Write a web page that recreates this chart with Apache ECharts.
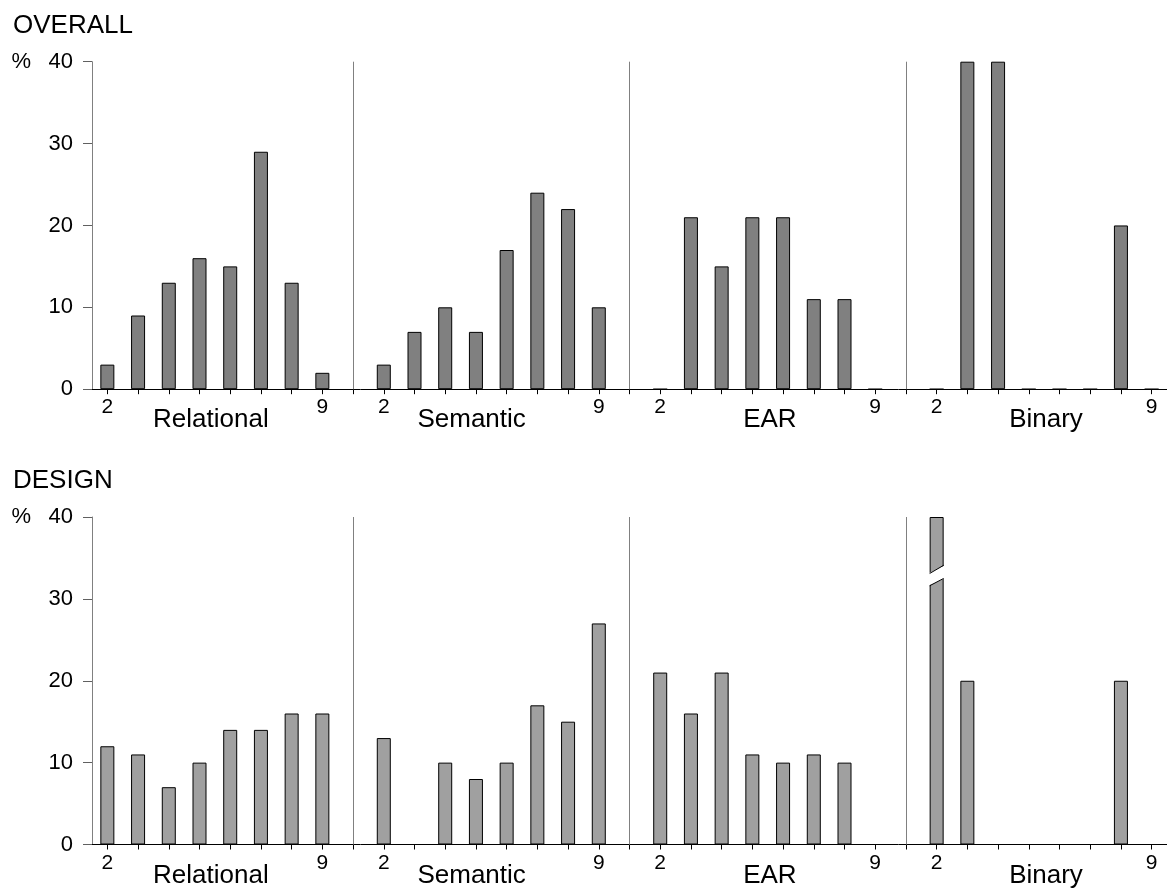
<!DOCTYPE html>
<html>
<head>
<meta charset="utf-8">
<script src="https://cdn.jsdelivr.net/npm/echarts@6/dist/echarts.min.js"></script>
<style>
html,body{margin:0;padding:0;background:#fff;}
#chart{width:1167px;height:894px;}
</style>
</head>
<body>
<div id="chart"></div>
<script>
// ---- data ----
const categories = ['2', '3', '4', '5', '6', '7', '8', '9'];
const groups = ['Relational', 'Semantic', 'EAR', 'Binary'];
const panelTitles = ['OVERALL', 'DESIGN'];
const yTicks = [0, 10, 20, 30, 40];

const overallRelational = [3, 9, 13, 16, 15, 29, 13, 2];
const overallSemantic   = [3, 7, 10, 7, 17, 24, 22, 10];
const overallEAR        = [0, 21, 15, 21, 21, 11, 11, 0];
const overallBinary     = [0, 40, 40, 0, 0, 0, 20, 0];

const designRelational  = [12, 11, 7, 10, 14, 14, 16, 16];
const designSemantic    = [13, 0, 10, 8, 10, 17, 15, 27];
const designEAR         = [21, 16, 21, 11, 10, 11, 10, 0];
const designBinary      = [40, 20, 0, 0, 0, 0, 20, 0];
// bars that run off the top of the axis (drawn with a break mark)
const designBroken      = [['Binary', '2']];

// ---- build ----
const FONT = '"Liberation Sans", Arial, Helvetica, sans-serif';
const yMax = 40;
const xIds = [];
const sepIds = [];
groups.forEach((g, gi) => {
  if (gi > 0) { xIds.push('sep' + gi); sepIds.push('sep' + gi); }
  categories.forEach(c => xIds.push(g + '|' + c));
});
function panelData(arrs) {
  const map = {};
  groups.forEach((g, gi) => categories.forEach((c, ci) => { map[g + '|' + c] = arrs[gi][ci]; }));
  return xIds.map(id => (id in map ? map[id] : '-'));
}
const panels = [
  panelData([overallRelational, overallSemantic, overallEAR, overallBinary]),
  panelData([designRelational, designSemantic, designEAR, designBinary])
];
const brokenIdx = [[], designBroken.map(([g, c]) => xIds.indexOf(g + '|' + c))];

// group name label anchors (layout: category-index space, per group)
const groupLabelPos = [4.37, 12.86, 22.57, 31.56];

const gridTops = [61.7, 517];
const gridH = 327.5;
const barW = 14;
const barColors = ['#808080', '#a0a0a0'];

const option = {
  animation: false,
  backgroundColor: '#fff',
  textStyle: { fontFamily: FONT },
  title: panelTitles.map((t, i) => ({
    text: t, left: 8, top: gridTops[i] - 54,
    textStyle: { fontFamily: FONT, fontSize: 26, fontWeight: 'normal', color: '#000' }
  })),
  grid: gridTops.map(t => ({ left: 92, right: 0, top: t, height: gridH, containLabel: false })),
  xAxis: [],
  yAxis: [],
  series: []
};

[0, 1].forEach(p => {
  option.xAxis.push({
    type: 'category', gridIndex: p, data: xIds, position: 'bottom',
    boundaryGap: true,
    axisLine: { show: true, lineStyle: { color: '#000', width: 1 } },
    axisTick: { show: true, alignWithLabel: true, interval: 0, length: 5, lineStyle: { color: '#000' } },
    axisLabel: {
      interval: 0, margin: 8, fontSize: 21, color: '#000', fontFamily: FONT,
      formatter: id => {
        const c = id.split('|')[1];
        return (c === categories[0] || c === categories[categories.length - 1]) ? c : '';
      }
    },
    splitLine: { show: false }
  });
  option.xAxis.push({
    type: 'value', gridIndex: p, position: 'bottom', min: 0.5, max: xIds.length + 0.5,
    axisLine: { show: false }, axisTick: { show: false }, splitLine: { show: false },
    axisLabel: {
      customValues: groupLabelPos, margin: 18, fontSize: 26, color: '#000', fontFamily: FONT,
      showMinLabel: true, showMaxLabel: true,
      formatter: v => {
        const i = groupLabelPos.findIndex(q => Math.abs(q - v) < 1e-6);
        return i >= 0 ? groups[i] : '';
      }
    }
  });
  option.yAxis.push({
    type: 'value', gridIndex: p, min: 0, max: yMax, interval: 10,
    axisLine: { show: true, lineStyle: { color: '#808080', width: 1 } },
    axisTick: { show: true, length: 9, lineStyle: { color: '#606060' } },
    splitLine: { show: false },
    axisLabel: {
      margin: 19, fontSize: 22, color: '#000', fontFamily: FONT,
      formatter: v => v === yMax ? '{p|%}{v|' + v + '}' : '' + v,
      rich: {
        p: { width: 37, align: 'left', fontSize: 22, fontFamily: FONT, color: '#000' },
        v: { fontSize: 22, fontFamily: FONT, color: '#000' }
      }
    }
  });
  option.series.push({
    type: 'bar', xAxisIndex: p * 2, yAxisIndex: p, data: panels[p].map(v => v === '-' ? '-' : Math.min(v, yMax)),
    barWidth: barW,
    itemStyle: { color: barColors[p], borderColor: '#000', borderWidth: 1 },
    markLine: {
      silent: true, symbol: 'none', animation: false,
      label: { show: false },
      lineStyle: { color: '#808080', width: 1, type: 'solid' },
      data: sepIds.map(id => ({ xAxis: id }))
    },
    z: 2
  });
  if (brokenIdx[p].length) {
    option.series.push({
      type: 'custom', xAxisIndex: p * 2, yAxisIndex: p, z: 5, silent: true,
      data: brokenIdx[p].map(i => [i, yMax]),
      renderItem: (params, api) => {
        const x = api.coord([api.value(0), 0])[0];
        const py = y => api.coord([api.value(0), y])[1];
        const h = barW / 2;
        const L = x - h, R = x + h;
        const ext = 3;
        return {
          type: 'group',
          children: [
            { type: 'polygon', shape: { points: [[L - ext, py(31.5)], [R + ext, py(32.6)], [R + ext, py(34.2)], [L - ext, py(33.0)]] },
              style: { fill: '#fff', stroke: null } },
            { type: 'line', shape: { x1: L, y1: py(33.1), x2: R, y2: py(34.1) }, style: { stroke: '#000', lineWidth: 1 } },
            { type: 'line', shape: { x1: L, y1: py(31.6), x2: R, y2: py(32.5) }, style: { stroke: '#000', lineWidth: 1 } }
          ]
        };
      }
    });
  }
});

const chart = echarts.init(document.getElementById('chart'), null, { renderer: 'canvas' });
chart.setOption(option);
</script>
</body>
</html>
